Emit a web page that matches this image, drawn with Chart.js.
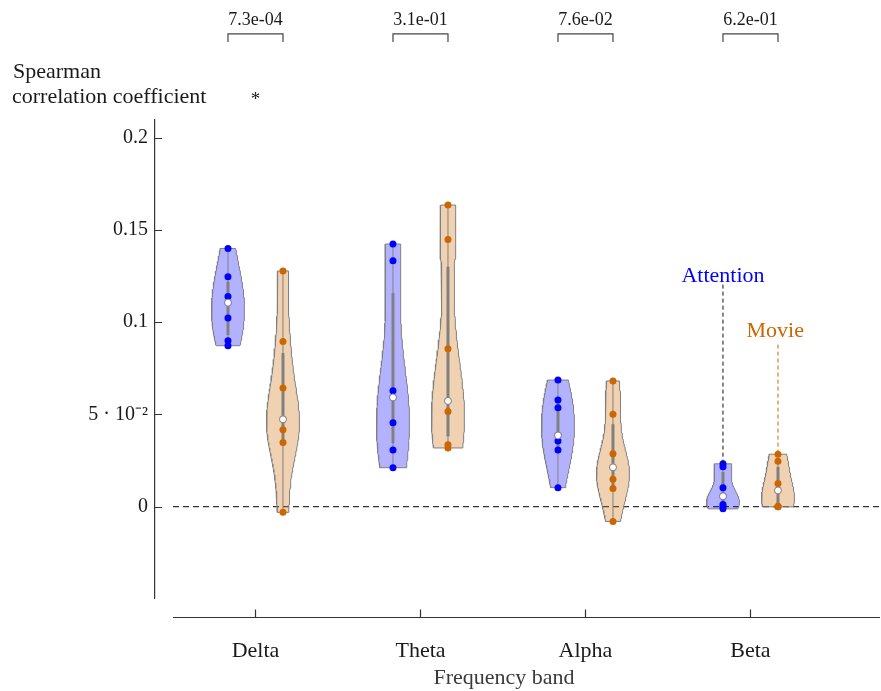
<!DOCTYPE html>
<html>
<head>
<meta charset="utf-8">
<title>Spearman correlation by frequency band</title>
<script src="https://cdn.jsdelivr.net/npm/chart.js@4.4.0/dist/chart.umd.min.js"></script>
<style>
  html, body { margin: 0; padding: 0; background: #fff; }
  #chart { display: block; }
</style>
</head>
<body>
<canvas id="chart" width="881" height="691"></canvas>
<script>
// Per-subject Spearman coefficients, one array per condition and band
const bands = ['Delta', 'Theta', 'Alpha', 'Beta'];
const attentionDelta = [0.1399, 0.1246, 0.1139, 0.1105, 0.1022, 0.0899, 0.0872];
const movieDelta     = [0.1277, 0.0895, 0.0643, 0.0473, 0.0417, 0.0348, -0.0031];
const attentionTheta = [0.1423, 0.1333, 0.0628, 0.0592, 0.0455, 0.0307, 0.0211];
const movieTheta     = [0.1634, 0.1448, 0.0856, 0.0573, 0.0516, 0.0336, 0.0318];
const attentionAlpha = [0.0686, 0.0578, 0.0536, 0.0386, 0.0356, 0.0307, 0.0103];
const movieAlpha     = [0.0681, 0.0500, 0.0287, 0.0213, 0.0148, 0.0098, -0.0080];
const attentionBeta  = [0.0232, 0.0216, 0.0102, 0.0056, 0.0011, 0.0000, -0.0012];
const movieBeta      = [0.0284, 0.0246, 0.0125, 0.0088, 0.0002, 0.0000, -0.0001];

// paired test result per band (Attention vs Movie)
const pValues = ['7.3e-04', '3.1e-01', '7.6e-02', '6.2e-01'];
const significant = [true, false, false, false];

const yTicks = [0, 0.05, 0.1, 0.15, 0.2];

const SERIF = '"Liberation Serif", "Times New Roman", serif';
const GREY = 'rgb(128,128,128)';
const VIOLIN_WIDTH = 0.3;     // half width of the widest part, x units
const X_END = 12.855;         // right end of the detached x axis

const conditions = [
    { name: 'Attention', color: '#0000ff', fill: 'rgba(0,0,255,0.3)',
      values: [attentionDelta, attentionTheta, attentionAlpha, attentionBeta] },
    { name: 'Movie', color: '#cc6600', fill: 'rgba(204,102,0,0.3)',
      values: [movieDelta, movieTheta, movieAlpha, movieBeta] }
];

// x position of a violin: bands are 3 units apart, conditions side by side
const violinPos = (band, cond) => band * 3 + 1 + cond;
const bandCenter = band => band * 3 + 1.5;

/**
 * Quantile with the same interpolation as MATLAB's quantile()
 */
function quantile(sorted, p) {
    const n = sorted.length;
    const pos = n * p + 0.5;
    if (pos <= 1) return sorted[0];
    if (pos >= n) return sorted[n - 1];
    const lo = Math.floor(pos);
    return sorted[lo - 1] + (pos - lo) * (sorted[lo] - sorted[lo - 1]);
}

/**
 * Gaussian KDE outline, cut at the data range (ksdensity default bandwidth)
 */
function violinOutline(values, pos) {
    const sorted = [...values].sort((a, b) => a - b);
    const n = sorted.length;
    const med = quantile(sorted, 0.5);
    const dev = sorted.map(v => Math.abs(v - med)).sort((a, b) => a - b);
    let sig = quantile(dev, 0.5) / 0.6745;
    if (sig <= 0) sig = sorted[n - 1] - sorted[0];
    const bw = sig * Math.pow(4 / (3 * n), 0.2);

    const lo = sorted[0], hi = sorted[n - 1];
    const steps = 90;
    const ys = [], dens = [];
    for (let i = 0; i <= steps; i++) {
        const y = lo + (hi - lo) * i / steps;
        let d = 0;
        sorted.forEach(v => { const z = (y - v) / bw; d += Math.exp(-0.5 * z * z); });
        ys.push(y);
        dens.push(d);
    }
    const maxD = Math.max(...dens);
    const right = ys.map((y, i) => ({ x: pos + VIOLIN_WIDTH * dens[i] / maxD, y }));
    const left = ys.map((y, i) => ({ x: pos - VIOLIN_WIDTH * dens[i] / maxD, y })).reverse();
    return [...right, ...left, right[0]];
}

function boxStats(values) {
    const sorted = [...values].sort((a, b) => a - b);
    const q1 = quantile(sorted, 0.25);
    const q3 = quantile(sorted, 0.75);
    const iqr = q3 - q1;
    const lowW = Math.min(...sorted.filter(v => v >= q1 - 1.5 * iqr));
    const highW = Math.max(...sorted.filter(v => v <= q3 + 1.5 * iqr));
    return { q1, q3, med: quantile(sorted, 0.5), lowW, highW };
}

function lineSet(data, color, width, order, extra = {}) {
    return Object.assign({
        data, showLine: true, borderColor: color, borderWidth: width,
        pointRadius: 0, fill: false, tension: 0, order
    }, extra);
}

const datasets = [];

// dashed zero reference line
datasets.push(lineSet([{ x: 0, y: 0 }, { x: X_END, y: 0 }], '#333333', 1.1, 50,
    { borderDash: [6, 4], clip: false }));

conditions.forEach((cond, ci) => {
    cond.values.forEach((values, bi) => {
        const pos = violinPos(bi, ci);
        const st = boxStats(values);

        datasets.push(lineSet(violinOutline(values, pos), GREY, 1, 40,
            { fill: 'shape', backgroundColor: cond.fill }));
        datasets.push(lineSet([{ x: pos, y: st.lowW }, { x: pos, y: st.highW }], GREY, 1, 30));
        datasets.push(lineSet([{ x: pos, y: st.q1 }, { x: pos, y: st.q3 }], GREY, 3, 29));
        datasets.push({
            data: values.map(v => ({ x: pos, y: v })),
            pointRadius: 3.5, pointBorderWidth: 0,
            backgroundColor: cond.color, borderColor: cond.color, order: 20
        });
        datasets.push({
            data: [{ x: pos, y: st.med }],
            pointRadius: 3.5, pointBorderWidth: 1,
            backgroundColor: '#ffffff', borderColor: GREY, order: 10
        });
    });
});

// significance brackets above each band
const BRACKET_TOP = 0.2562;
const BRACKET_FOOT = 0.2517;
bands.forEach((b, bi) => {
    const a = violinPos(bi, 0), m = violinPos(bi, 1);
    datasets.push(lineSet([
        { x: a, y: BRACKET_FOOT }, { x: a, y: BRACKET_TOP },
        { x: m, y: BRACKET_TOP }, { x: m, y: BRACKET_FOOT }
    ], '#444444', 1.2, 5, { clip: false }));
});

// callout lines for the condition labels on the Beta band
const calloutAttention = { x: violinPos(3, 0), top: 0.1203, label: 0.1247 };
const calloutMovie = { x: violinPos(3, 1), top: 0.0878, label: 0.0949 };
datasets.push(lineSet([
    { x: calloutAttention.x, y: calloutAttention.top },
    { x: calloutAttention.x, y: Math.max(...attentionBeta) }
], '#111111', 1, 5, { borderDash: [4, 3] }));
datasets.push(lineSet([
    { x: calloutMovie.x, y: calloutMovie.top },
    { x: calloutMovie.x, y: Math.max(...movieBeta) }
], '#cc6600', 1, 5, { borderDash: [4, 3] }));

/**
 * Detached x axis, inward ticks and the free text around the plot
 */
const decorPlugin = {
    id: 'decor',
    afterDraw(chart) {
        const { ctx, chartArea, scales: { x, y } } = chart;
        ctx.save();

        const axisY = chartArea.bottom + 19.5;
        ctx.strokeStyle = '#333333';
        ctx.lineWidth = 1.2;
        ctx.beginPath();
        ctx.moveTo(x.getPixelForValue(0), axisY);
        ctx.lineTo(x.getPixelForValue(X_END), axisY);
        bands.forEach((b, bi) => {
            const px = Math.round(x.getPixelForValue(bandCenter(bi))) + 0.5;
            ctx.moveTo(px, axisY);
            ctx.lineTo(px, axisY - 8);
        });
        yTicks.forEach(v => {
            const py = Math.round(y.getPixelForValue(v)) + 0.5;
            ctx.moveTo(chartArea.left, py);
            ctx.lineTo(chartArea.left + 7, py);
        });
        ctx.stroke();

        ctx.fillStyle = '#1a1a1a';
        ctx.textBaseline = 'middle';

        // y axis title, written horizontally above the axis
        ctx.textAlign = 'left';
        ctx.font = `22px ${SERIF}`;
        ctx.fillText('Spearman', 13, 72);
        ctx.fillText('correlation coefficient', 12, 97);

        // p-values and significance marks
        ctx.textAlign = 'center';
        bands.forEach((b, bi) => {
            const cx = x.getPixelForValue(bandCenter(bi));
            ctx.font = `18px ${SERIF}`;
            ctx.fillText(pValues[bi], cx, y.getPixelForValue(BRACKET_TOP) - 14);
            if (significant[bi]) {
                ctx.font = `19px ${SERIF}`;
                ctx.fillText('*', cx, y.getPixelForValue(BRACKET_TOP) + 66);
            }
        });

        // condition labels
        ctx.font = `22px ${SERIF}`;
        ctx.fillStyle = '#0000ff';
        ctx.fillText(conditions[0].name, x.getPixelForValue(calloutAttention.x),
            y.getPixelForValue(calloutAttention.label));
        ctx.fillStyle = '#cc6600';
        ctx.fillText(conditions[1].name, x.getPixelForValue(calloutMovie.x - 0.05),
            y.getPixelForValue(calloutMovie.label));

        ctx.restore();
    }
};

new Chart(document.getElementById('chart'), {
    type: 'scatter',
    data: { datasets },
    options: {
        responsive: false,
        animation: false,
        events: [],
        layout: { padding: { left: 0, top: 120, right: 28, bottom: 0 } },
        plugins: {
            legend: { display: false },
            tooltip: { enabled: false }
        },
        scales: {
            x: {
                type: 'linear',
                min: -0.327,
                max: 12.364,
                grid: { display: false, drawTicks: false },
                border: { display: false },
                afterBuildTicks: axis => { axis.ticks = bands.map((b, bi) => ({ value: bandCenter(bi) })); },
                afterFit: axis => { axis.height = 93; },
                ticks: {
                    padding: 40,
                    color: '#1a1a1a',
                    font: { family: SERIF, size: 22 },
                    callback: value => bands[Math.round((value - 1.5) / 3)]
                },
                title: {
                    display: true,
                    text: 'Frequency band',
                    color: '#3a3a3a',
                    font: { family: SERIF, size: 22 },
                    padding: { top: 0, bottom: 0 }
                }
            },
            y: {
                type: 'linear',
                min: -0.0495,
                max: 0.2095,
                grid: { display: false, drawTicks: false },
                border: { display: true, color: '#333333', width: 1.2 },
                afterBuildTicks: axis => { axis.ticks = yTicks.map(v => ({ value: v })); },
                afterFit: axis => { axis.width = 155; },
                ticks: {
                    padding: 7,
                    color: '#1a1a1a',
                    font: { family: SERIF, size: 20 },
                    callback: value => value === 0.05 ? '5 · 10⁻²' : String(value)
                }
            }
        }
    },
    plugins: [decorPlugin]
});
</script>
</body>
</html>
